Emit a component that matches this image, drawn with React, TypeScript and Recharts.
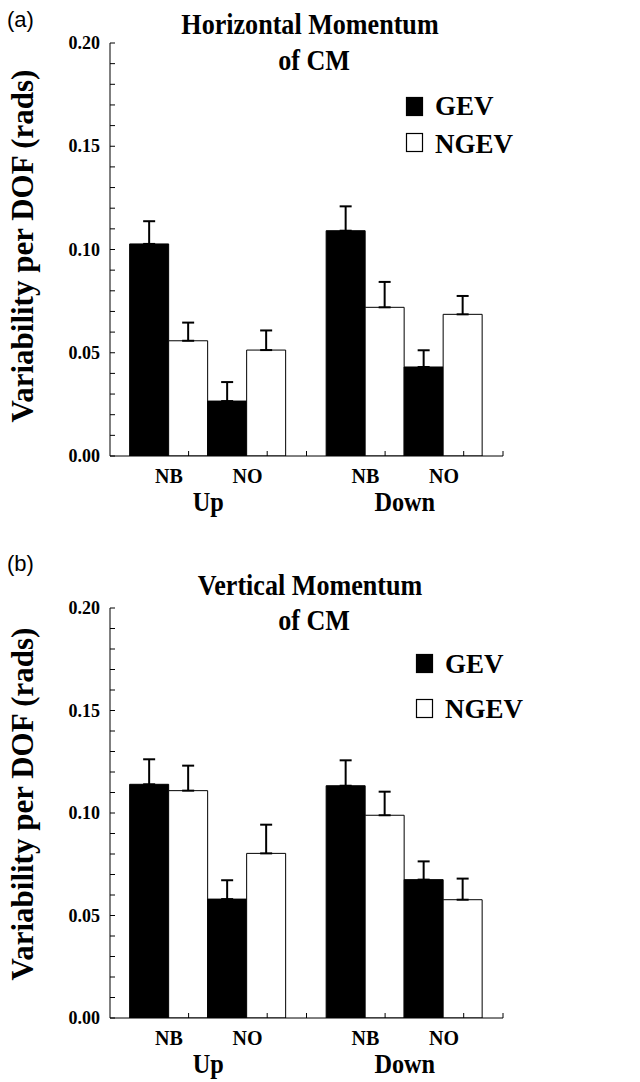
import React from "react";
import { BarChart, Bar, XAxis, YAxis, ErrorBar } from "recharts";

const directions = ["Up", "Down"];
const conditions = ["NB", "NO"];
const seriesNames = ["GEV", "NGEV"];
const seriesFills = ["#000000", "#ffffff"];
const yTicks = [0, 0.01, 0.02, 0.03, 0.04, 0.05, 0.06, 0.07, 0.08, 0.09, 0.1, 0.11, 0.12, 0.13, 0.14, 0.15, 0.16, 0.17, 0.18, 0.19, 0.2];
const yLabelTicks = [0, 0.05, 0.1, 0.15, 0.2];

// (a) Horizontal momentum of CM — values per direction [Up, Down]
const horizGevNB = [0.1027, 0.1091];
const horizGevNBErr = [0.011, 0.0118];
const horizNgevNB = [0.0558, 0.072];
const horizNgevNBErr = [0.0088, 0.0123];
const horizGevNO = [0.0266, 0.0431];
const horizGevNOErr = [0.0092, 0.0081];
const horizNgevNO = [0.0513, 0.0686];
const horizNgevNOErr = [0.0095, 0.0089];

// (b) Vertical momentum of CM
const vertGevNB = [0.114, 0.1133];
const vertGevNBErr = [0.0122, 0.0124];
const vertNgevNB = [0.1109, 0.0989];
const vertNgevNBErr = [0.0122, 0.0115];
const vertGevNO = [0.058, 0.0675];
const vertGevNOErr = [0.0092, 0.0089];
const vertNgevNO = [0.0803, 0.0577];
const vertNgevNOErr = [0.014, 0.0103];

const SERIF = "'Liberation Serif','Times New Roman',Times,serif";
const SANS = "'Liberation Sans',Arial,Helvetica,sans-serif";

const W = 640;
const H = 541;
const PLOT_LEFT = 110;
const PLOT_RIGHT = 503;
const BAND = (PLOT_RIGHT - PLOT_LEFT) / directions.length;

function buildRows(
  gevNB: number[], gevNBErr: number[], ngevNB: number[], ngevNBErr: number[],
  gevNO: number[], gevNOErr: number[], ngevNO: number[], ngevNOErr: number[]
) {
  return directions.map((d, i) => ({
    dir: d,
    nbGev: gevNB[i], nbGevErr: [0, gevNBErr[i]],
    nbNgev: ngevNB[i], nbNgevErr: [0, ngevNBErr[i]],
    noGev: gevNO[i], noGevErr: [0, gevNOErr[i]],
    noNgev: ngevNO[i], noNgevErr: [0, ngevNOErr[i]],
  }));
}

const rowsA = buildRows(horizGevNB, horizGevNBErr, horizNgevNB, horizNgevNBErr, horizGevNO, horizGevNOErr, horizNgevNO, horizNgevNOErr);
const rowsB = buildRows(vertGevNB, vertGevNBErr, vertNgevNB, vertNgevNBErr, vertGevNO, vertGevNOErr, vertNgevNO, vertNgevNOErr);

function YTick(props: any) {
  const { x, y, payload } = props;
  const v = payload.value as number;
  const isLabel = yLabelTicks.some((t) => Math.abs(t - v) < 1e-9);
  return (
    <g>
      <line x1={x} x2={x + 5} y1={y} y2={y} stroke="#000" strokeWidth={1} />
      {isLabel && (
        <text x={x - 10} y={y + 6} textAnchor="end" fontFamily={SERIF} fontWeight="bold" fontSize={18} fill="#000">
          {v.toFixed(2)}
        </text>
      )}
    </g>
  );
}

function XTick(props: any) {
  const { x, y, payload } = props;
  const u = BAND / 5;
  return (
    <g>
      {[-0.5, 1.5, 2.5].map((k) => (
        <line key={k} x1={x + k * u} x2={x + k * u} y1={y} y2={y - 5} stroke="#000" strokeWidth={1} />
      ))}
      {conditions.map((c, j) => (
        <text key={c} x={x + (j === 0 ? -1 : 1) * BAND * 0.2} y={y + 27} textAnchor="middle" fontFamily={SERIF} fontWeight="bold" fontSize={20} fill="#000">
          {c}
        </text>
      ))}
      <text transform={`translate(${x},${y + 55}) scale(0.9,1)`} textAnchor="middle" fontFamily={SERIF} fontWeight="bold" fontSize={27} fill="#000">
        {payload.value}
      </text>
    </g>
  );
}

function Panel({ data, top, bottom }: { data: any[]; top: number; bottom: number }) {
  const bars = [
    { key: "nbGev", fill: seriesFills[0] },
    { key: "nbNgev", fill: seriesFills[1] },
    { key: "noGev", fill: seriesFills[0] },
    { key: "noNgev", fill: seriesFills[1] },
  ];
  return (
    <BarChart
      width={W}
      height={H}
      data={data}
      margin={{ top, right: W - PLOT_RIGHT, left: PLOT_LEFT - 60, bottom }}
      barCategoryGap="10%"
      barGap={0}
    >
      {bars.map((b) => (
        <Bar
          key={b.key}
          dataKey={b.key}
          fill={b.fill}
          stroke="#000"
          strokeWidth={1}
          isAnimationActive={false}
        >
          <ErrorBar dataKey={b.key + "Err"} direction="y" width={6} stroke="#000" strokeWidth={2} />
        </Bar>
      ))}
      <XAxis
        dataKey="dir"
        height={60}
        interval={0}
        tickLine={false}
        tickSize={0}
        tickMargin={0}
        axisLine={{ stroke: "#000", strokeWidth: 1 }}
        tick={<XTick />}
      />
      <YAxis
        width={60}
        domain={[0, 0.2]}
        ticks={yTicks}
        interval={0}
        allowDataOverflow
        tickLine={false}
        tickSize={0}
        tickMargin={0}
        axisLine={{ stroke: "#000", strokeWidth: 1 }}
        tick={<YTick />}
      />
    </BarChart>
  );
}

function Annotations() {
  const titleA = ["Horizontal Momentum", "of CM"];
  const titleB = ["Vertical Momentum", "of CM"];
  const t = (s: string, x: number, y: number, key: string) => (
    <text key={key} transform={`translate(${x},${y}) scale(0.87,1)`} textAnchor="middle" fontFamily={SERIF} fontWeight="bold" fontSize={30} fill="#000">
      {s}
    </text>
  );
  const legend = (sx: number, tx: number, ys: number[], bases: number[]) =>
    seriesNames.map((n, i) => (
      <g key={n}>
        <rect x={sx + 0.5} y={ys[i] + 0.5} width={16} height={18} fill={seriesFills[i]} stroke="#000" strokeWidth={1.2} />
        <text x={tx} y={bases[i]} fontFamily={SERIF} fontWeight="bold" fontSize={27} fill="#000">
          {n}
        </text>
      </g>
    ));
  const yLabel = (cy: number) => (
    <text transform={`translate(33,${cy}) rotate(-90)`} textAnchor="middle" fontFamily={SERIF} fontWeight="bold" fontSize={31} fill="#000">
      Variability per DOF (rads)
    </text>
  );
  return (
    <svg width={640} height={1082} style={{ position: "absolute", left: 0, top: 0, pointerEvents: "none" }}>
      <text x={7} y={27} fontFamily={SANS} fontSize={22} fill="#000">(a)</text>
      {t(titleA[0], 310, 34, "a0")}
      {t(titleA[1], 314, 70, "a1")}
      {legend(406, 435, [97, 133], [115, 153])}
      {yLabel(246)}
      <text x={7} y={571} fontFamily={SANS} fontSize={22} fill="#000">(b)</text>
      {t(titleB[0], 310, 595, "b0")}
      {t(titleB[1], 314, 630, "b1")}
      {legend(416, 445, [654, 699], [673, 718])}
      {yLabel(804)}
    </svg>
  );
}

export default function App() {
  return (
    <div style={{ position: "absolute", left: 0, top: 0, width: 640, height: 1082, background: "#fff", overflow: "hidden" }}>
      <div style={{ position: "absolute", left: 0, top: 0 }}>
        <Panel data={rowsA} top={43} bottom={H - 456 - 60} />
      </div>
      <div style={{ position: "absolute", left: 0, top: 541 }}>
        <Panel data={rowsB} top={608 - 541} bottom={H - (1018 - 541) - 60} />
      </div>
      <Annotations />
    </div>
  );
}
